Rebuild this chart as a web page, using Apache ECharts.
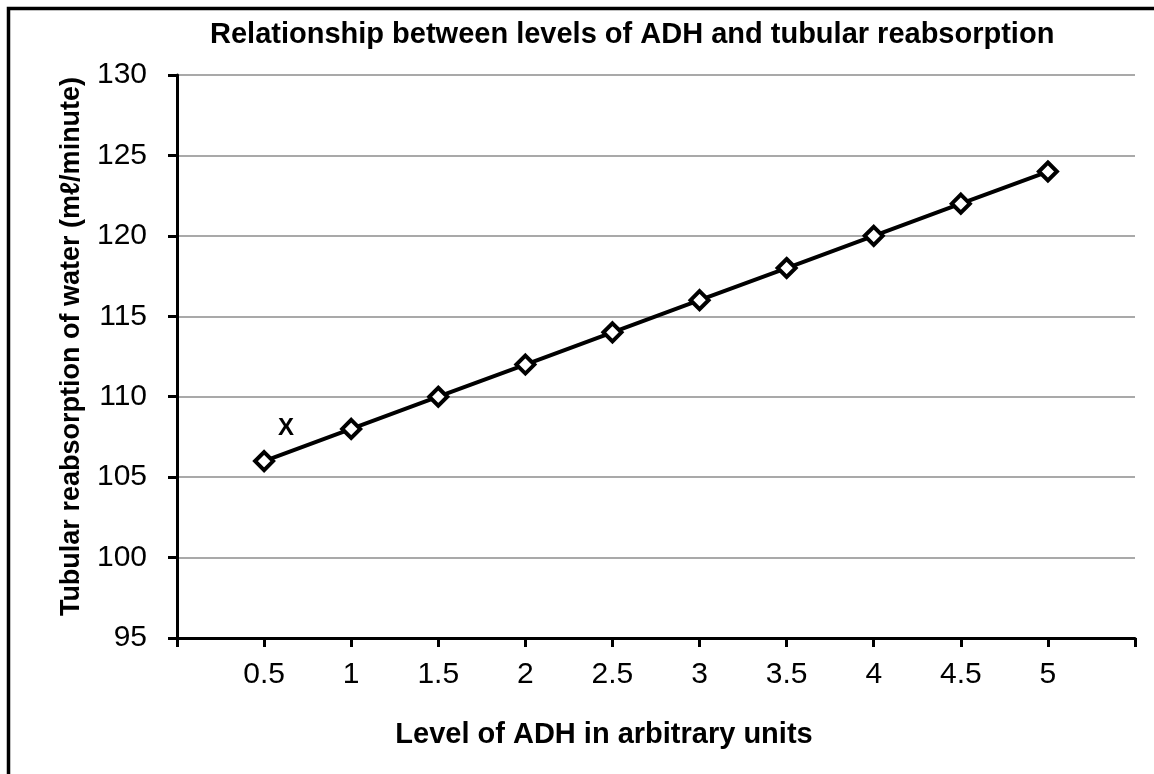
<!DOCTYPE html>
<html>
<head>
<meta charset="utf-8">
<script src="https://cdn.jsdelivr.net/npm/echarts@6/dist/echarts.min.js"></script>
<style>
  html, body { margin: 0; padding: 0; background: #fff; }
  #main { width: 1154px; height: 774px; }
</style>
</head>
<body>
<div id="main"></div>
<script>
// ADH level vs tubular reabsorption
var adhLevels = [0.5, 1, 1.5, 2, 2.5, 3, 3.5, 4, 4.5, 5];
var reabsorption = [106, 108, 110, 112, 114, 116, 118, 120, 122, 124];
var pointLabels = ['X', '', '', '', '', '', '', '', '', ''];

var myChart = echarts.init(document.getElementById('main'));

var seriesData = adhLevels.map(function (x, i) {
    var item = { value: [x, reabsorption[i]] };
    if (pointLabels[i]) {
        item.label = {
            show: true,
            formatter: pointLabels[i],
            position: 'inside',
            offset: [22, -33],
            fontSize: 24,
            fontWeight: 'bold',
            color: '#000'
        };
    }
    return item;
});

var option = {
    backgroundColor: '#fff',
    textStyle: { fontFamily: 'Liberation Sans, Arial, sans-serif' },
    title: {
        text: 'Relationship between levels of ADH and tubular reabsorption',
        left: 205,
        top: 15,
        textStyle: { fontSize: 29, fontWeight: 'bold', color: '#000' }
    },
    // only top and left edges of the frame are inside the picture
    graphic: [{
        type: 'rect',
        shape: { x: 8.5, y: 8.5, width: 1300, height: 900 },
        style: { fill: 'none', stroke: '#000', lineWidth: 3.5 },
        silent: true
    }],
    grid: { left: 177, right: 19, top: 75, bottom: 136 },
    xAxis: {
        type: 'value',
        min: 0,
        max: 5.5,
        interval: 0.5,
        name: 'Level of ADH in arbitrary units',
        nameLocation: 'middle',
        nameGap: 82,
        nameTextStyle: { fontSize: 29, fontWeight: 'bold', color: '#000', padding: [0, 104, 0, 0] },
        axisLine: { lineStyle: { color: '#000', width: 3 } },
        axisTick: { show: true, length: 9, inside: false, lineStyle: { color: '#000', width: 3 } },
        axisLabel: {
            fontSize: 30, color: '#000', margin: 22,
            formatter: function (v) {
                return (v === 0 || v === 5.5) ? '' : String(v);
            }
        },
        splitLine: { show: false }
    },
    yAxis: {
        type: 'value',
        min: 95,
        max: 130,
        interval: 5,
        name: 'Tubular reabsorption of water (m\u2113/minute)',
        nameLocation: 'middle',
        nameGap: 92,
        nameTextStyle: { fontSize: 27, fontWeight: 'bold', color: '#000', padding: [0, 0, 0, 20] },
        axisLine: { show: true, lineStyle: { color: '#000', width: 3 } },
        axisTick: { show: true, length: 9, lineStyle: { color: '#000', width: 3 } },
        axisLabel: { fontSize: 30, color: '#000', margin: 30 },
        splitLine: { show: true, lineStyle: { color: '#8c8c8c', width: 1.5 } }
    },
    series: [{
        type: 'line',
        data: seriesData,
        symbol: 'diamond',
        symbolSize: 18,
        lineStyle: { color: '#000', width: 4 },
        itemStyle: { color: '#fff', borderColor: '#000', borderWidth: 4 },
        z: 3,
        animation: false
    }]
};

myChart.setOption(option);
</script>
</body>
</html>
